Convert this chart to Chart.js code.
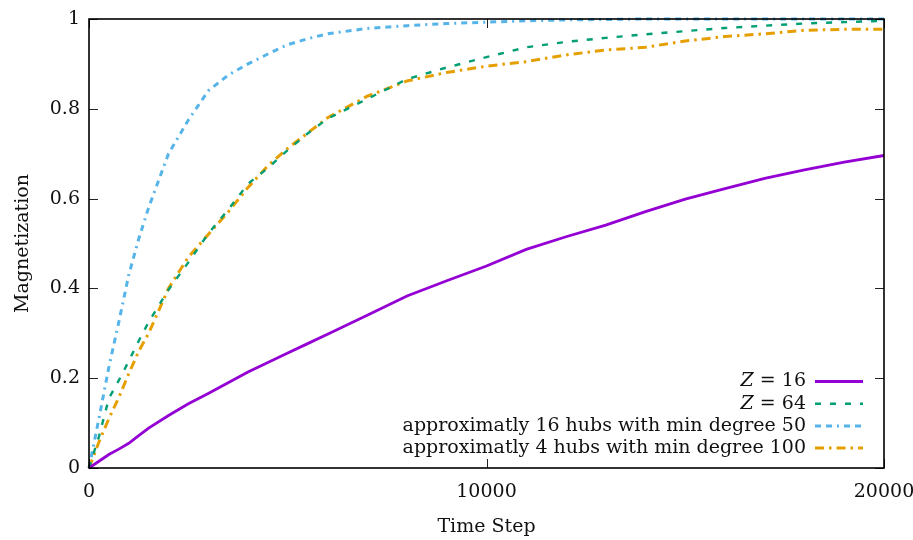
<!DOCTYPE html>
<html><head><meta charset="utf-8">
<script src="https://cdn.jsdelivr.net/npm/chart.js@4.4.1/dist/chart.umd.min.js"></script>
<style>html,body{margin:0;padding:0;background:#fff}#wrap{width:913px;height:540px}</style>
</head><body><div id="wrap"><canvas id="c" width="913" height="540"></canvas></div>
<script>
const timeSteps = [0, 250, 500, 750, 1000, 1250, 1500, 2000, 2500, 3000, 3500, 4000, 4500, 5000, 5500, 6000, 7000, 8000, 9000, 10000, 11000, 12000, 13000, 14000, 15000, 16000, 17000, 18000, 19000, 20000];
const z16    = [0, 0.015, 0.030, 0.042, 0.055, 0.072, 0.089, 0.117, 0.143, 0.166, 0.190, 0.214, 0.235, 0.256, 0.277, 0.298, 0.340, 0.383, 0.417, 0.450, 0.487, 0.515, 0.541, 0.571, 0.599, 0.622, 0.645, 0.664, 0.681, 0.696];
const z64    = [0, 0.070, 0.155, 0.195, 0.238, 0.283, 0.325, 0.397, 0.458, 0.522, 0.575, 0.633, 0.668, 0.708, 0.745, 0.778, 0.822, 0.866, 0.892, 0.915, 0.937, 0.949, 0.958, 0.966, 0.973, 0.980, 0.985, 0.990, 0.993, 0.996];
const hubs16 = [0, 0.110, 0.225, 0.325, 0.430, 0.510, 0.580, 0.700, 0.775, 0.840, 0.875, 0.900, 0.922, 0.943, 0.956, 0.967, 0.979, 0.985, 0.990, 0.993, 0.996, 0.998, 0.999, 1.0, 1.0, 1.0, 1.0, 1.0, 1.0, 1.0];
const hubs4  = [0, 0.058, 0.110, 0.157, 0.210, 0.260, 0.300, 0.400, 0.470, 0.520, 0.570, 0.625, 0.673, 0.712, 0.746, 0.780, 0.828, 0.862, 0.881, 0.895, 0.905, 0.920, 0.931, 0.937, 0.951, 0.961, 0.967, 0.975, 0.977, 0.977];
const xTickValues = [0, 10000, 20000];
const yTickValues = [0, 0.2, 0.4, 0.6, 0.8, 1];
const seriesLabels = ['Z = 16', 'Z = 64', 'approximatly 16 hubs with min degree 50', 'approximatly 4 hubs with min degree 100'];

const FONT = "'DejaVu Serif', serif";
const FS = 19;
const toXY = arr => timeSteps.map((t, i) => ({x: t, y: arr[i]}));

const styles = [
  {color: '#9400D3', width: 2.8, dash: []},
  {color: '#009E73', width: 2.4, dash: [6, 9]},
  {color: '#56B4E9', width: 3, dash: [6, 5, 6, 5, 2, 5]},
  {color: '#E69F00', width: 3, dash: [9, 5, 2.5, 5]}
];
const seriesData = [z16, z64, hubs16, hubs4];

const frame = {
  id: 'frame',
  afterDraw(chart) {
    const ctx = chart.ctx, a = chart.chartArea;
    const xs = chart.scales.x, ys = chart.scales.y;
    ctx.save();
    ctx.strokeStyle = '#222';
    ctx.lineWidth = 1;
    ctx.setLineDash([]);
    ctx.beginPath();
    xs.ticks.forEach(t => {
      const px = Math.round(xs.getPixelForValue(t.value)) + 0.5;
      ctx.moveTo(px, a.bottom); ctx.lineTo(px, a.bottom - 9);
      ctx.moveTo(px, a.top); ctx.lineTo(px, a.top + 9);
    });
    ys.ticks.forEach(t => {
      const py = Math.round(ys.getPixelForValue(t.value)) + 0.5;
      ctx.moveTo(a.left, py); ctx.lineTo(a.left + 9, py);
      ctx.moveTo(a.right, py); ctx.lineTo(a.right - 9, py);
    });
    ctx.stroke();
    ctx.strokeStyle = '#000';
    ctx.lineWidth = 1.6;
    ctx.strokeRect(a.left, a.top, a.right - a.left, a.bottom - a.top);

    // legend
    const textRight = a.right - 78;
    const x0 = a.right - 69, x1 = a.right - 21;
    chart.data.datasets.forEach((d, i) => {
      const y = a.bottom - 86.5 + i * 22.2;
      ctx.fillStyle = '#111';
      ctx.textBaseline = 'middle';
      ctx.textAlign = 'left';
      const lbl = d.label;
      if (lbl.startsWith('Z')) {
        const rest = lbl.slice(1);
        ctx.font = `italic ${FS}px ${FONT}`;
        const wz = ctx.measureText('Z').width;
        ctx.font = `${FS}px ${FONT}`;
        const wr = ctx.measureText(rest).width;
        const sx = textRight - wz - wr;
        ctx.font = `italic ${FS}px ${FONT}`;
        ctx.fillText('Z', sx, y);
        ctx.font = `${FS}px ${FONT}`;
        ctx.fillText(rest, sx + wz, y);
      } else {
        ctx.font = `${FS}px ${FONT}`;
        ctx.textAlign = 'right';
        ctx.fillText(lbl, textRight, y);
      }
      ctx.strokeStyle = d.borderColor;
      ctx.lineWidth = d.borderWidth;
      ctx.setLineDash(d.borderDash);
      ctx.beginPath();
      ctx.moveTo(x0, y); ctx.lineTo(x1, y);
      ctx.stroke();
    });
    ctx.restore();
  }
};

new Chart(document.getElementById('c'), {
  type: 'line',
  data: {
    datasets: seriesData.map((arr, i) => ({
      label: seriesLabels[i],
      data: toXY(arr),
      borderColor: styles[i].color,
      backgroundColor: styles[i].color,
      borderWidth: styles[i].width,
      borderDash: styles[i].dash,
      pointRadius: 0,
      tension: 0,
      fill: false,
      clip: 4
    }))
  },
  options: {
    responsive: false,
    devicePixelRatio: 1,
    animation: false,
    layout: {padding: {left: 0, right: 29, top: 19, bottom: 0}},
    plugins: {legend: {display: false}, tooltip: {enabled: false}},
    scales: {
      x: {
        type: 'linear', min: 0, max: 20000,
        afterBuildTicks: s => { s.ticks = xTickValues.map(v => ({value: v})); },
        afterFit: s => { s.height = 72; s.paddingLeft = 0; s.paddingRight = 0; },
        grid: {display: false, drawTicks: false},
        border: {display: false},
        ticks: {font: {family: FONT, size: FS}, color: '#111', padding: 13, maxRotation: 0, autoSkip: false, callback: v => String(v)},
        title: {display: true, text: 'Time Step', font: {family: FONT, size: FS}, color: '#111', padding: {top: 0, bottom: 2}}
      },
      y: {
        min: 0, max: 1,
        afterBuildTicks: s => { s.ticks = yTickValues.map(v => ({value: v})); },
        afterFit: s => { s.width = 89; s.paddingTop = 0; s.paddingBottom = 0; },
        grid: {display: false, drawTicks: false},
        border: {display: false},
        ticks: {font: {family: FONT, size: FS}, color: '#111', padding: 9, callback: v => String(v)},
        title: {display: true, text: 'Magnetization', font: {family: FONT, size: FS}, color: '#111', padding: {top: 12, bottom: 0}}
      }
    }
  },
  plugins: [frame]
});
</script></body></html>
